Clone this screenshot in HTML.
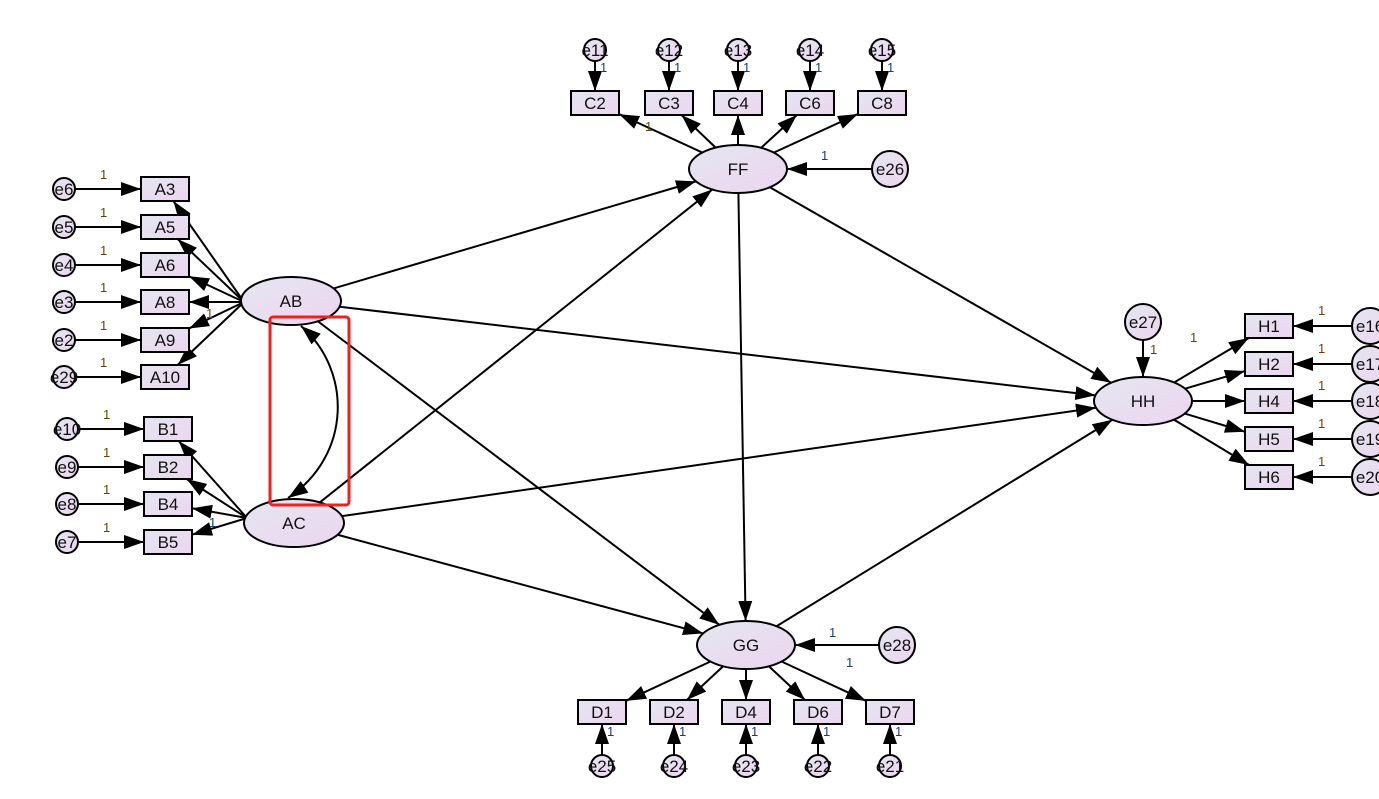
<!DOCTYPE html>
<html><head><meta charset="utf-8"><style>
html,body{margin:0;padding:0;background:#fff;width:1379px;height:799px;overflow:hidden}
svg text{font-family:"Liberation Sans",Arial,sans-serif}
</style></head><body>
<svg id="s" width="1379" height="799" xmlns="http://www.w3.org/2000/svg">
<defs>
<linearGradient id="g" x1="0" y1="0" x2="1" y2="1"><stop offset="0" stop-color="#e4e6f0"/><stop offset="1" stop-color="#edd5f0"/></linearGradient>
<marker id="ar" viewBox="0 0 20 14" refX="20" refY="7" markerWidth="20" markerHeight="14" markerUnits="userSpaceOnUse" orient="auto"><path d="M0,0 L20,7 L0,14 z" fill="#000"/></marker>
<marker id="as" viewBox="0 0 20 14" refX="0" refY="7" markerWidth="20" markerHeight="14" markerUnits="userSpaceOnUse" orient="auto"><path d="M20,0 L0,7 L20,14 z" fill="#000"/></marker>
</defs>
<g id="E"></g><g id="N"></g>
<rect x="270" y="317" width="79" height="188" rx="3" fill="none" stroke="#f02020" stroke-width="3"/>
</svg>
<script>
var N={},E=document.getElementById('E'),G=document.getElementById('N'),ns='http://www.w3.org/2000/svg';
function el(t,a,p,txt){var e=document.createElementNS(ns,t);for(var k in a)e.setAttribute(k,a[k]);if(txt!=null)e.textContent=txt;(p||G).appendChild(e);return e;}
function ell(n,x,y,rx,ry,fs){N[n]={x:x,y:y,rx:rx,ry:ry,t:'e'};el('ellipse',{cx:x,cy:y,rx:rx,ry:ry,fill:'url(#g)',stroke:'#000','stroke-width':2});el('text',{x:x,y:y+6,'text-anchor':'middle','font-size':fs||17,fill:'#111'},null,n);}
function box(n,x,y){N[n]={x:x,y:y,hw:24,hh:12,t:'r'};el('rect',{x:x-24,y:y-12,width:48,height:24,fill:'url(#g)',stroke:'#000','stroke-width':2});el('text',{x:x,y:y+6,'text-anchor':'middle','font-size':17,fill:'#111'},null,n);}
function edge(n,tx,ty){var o=N[n],dx=tx-o.x,dy=ty-o.y,s;if(o.t=='e')s=1/Math.sqrt(dx*dx/(o.rx*o.rx)+dy*dy/(o.ry*o.ry));else s=Math.min(o.hw/Math.abs(dx||1e-9),o.hh/Math.abs(dy||1e-9));return [o.x+dx*s,o.y+dy*s];}
function ar(a,b,st){var A=N[a],B=N[b],p=st||edge(a,B.x,B.y),q=edge(b,st?st[0]:A.x,st?st[1]:A.y);el('line',{x1:p[0],y1:p[1],x2:q[0],y2:q[1],stroke:'#000','stroke-width':2,'marker-end':'url(#ar)'},E);}
function lb(x,y,c){el('text',{x:x,y:y,'font-size':13,fill:c||'#5a4a00'},null,'1');}
ell('AB',291,301,50,24);ell('AC',294,523,50,24);ell('FF',738,169,49,24);ell('GG',746,645,49,24);ell('HH',1143,401,49,24);
var A=[['A3',189,'e6'],['A5',227,'e5'],['A6',265,'e4'],['A8',302,'e3'],['A9',340,'e2'],['A10',377,'e29']];
A.forEach(function(a){box(a[0],165,a[1]);ell(a[2],64,a[1],11,11,17);ar(a[2],a[0]);ar('AB',a[0],[244,302]);lb(100,a[1]-10);});
var B=[['B1',429,'e10'],['B2',467,'e9'],['B4',504,'e8'],['B5',542,'e7']];
B.forEach(function(a){box(a[0],168,a[1]);ell(a[2],67,a[1],11,11,17);ar(a[2],a[0]);ar('AC',a[0],[247,518]);lb(103,a[1]-10);});
lb(206,318,'#5a4a00');lb(209,527,'#1a3a7a');
var C=[['C2',595,'e11'],['C3',669,'e12'],['C4',738,'e13'],['C6',810,'e14'],['C8',882,'e15']];
C.forEach(function(a){box(a[0],a[1],103);ell(a[2],a[1],50,11,11,17);ar(a[2],a[0]);ar('FF',a[0]);lb(a[1]+5,72,'#1a3a7a');});
lb(645,131);ell('e26',890,169,18,18,17);ar('e26','FF');lb(821,160,'#1a3a7a');
var D=[['D1',602,'e25'],['D2',674,'e24'],['D4',746,'e23'],['D6',818,'e22'],['D7',890,'e21']];
D.forEach(function(a){box(a[0],a[1],712);ell(a[2],a[1],766,11,11,17);ar(a[2],a[0]);ar('GG',a[0]);lb(a[1]+5,736,'#1a3a7a');});
ell('e28',897,645,18,18,17);ar('e28','GG');lb(829,637,'#1a3a7a');lb(846,667,'#1a3a7a');
var H=[['H1',326,'e16'],['H2',364,'e17'],['H4',401,'e18'],['H5',439,'e19'],['H6',477,'e20']];
H.forEach(function(a){box(a[0],1269,a[1]);ell(a[2],1370,a[1],18,18,17);ar(a[2],a[0]);ar('HH',a[0]);lb(1318,a[1]-11,'#7a3a00');});
ell('e27',1143,322,18,18,17);ar('e27','HH');lb(1150,354,'#5a4a00');lb(1190,342,'#5a4a00');
['AB>FF','AB>HH','AB>GG','AC>FF','AC>HH','AC>GG','FF>HH','FF>GG','GG>HH'].forEach(function(s){var p=s.split('>');ar(p[0],p[1]);});
el('path',{d:'M301,326 C352,370 352,455 288,498',fill:'none',stroke:'#000','stroke-width':2,'marker-start':'url(#as)','marker-end':'url(#ar)'},E);
</script>
</body></html>
